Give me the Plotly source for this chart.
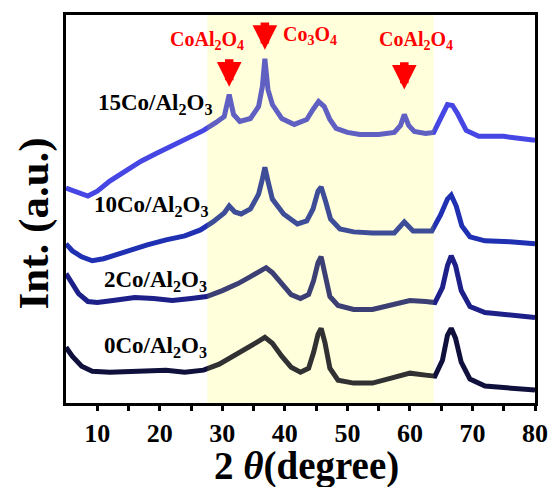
import plotly.graph_objects as go

# 2-theta positions (degree) and relative intensities (a.u., stacked with offsets)
theta_15 = [5.0, 6.5, 8.5, 10.0, 12.0, 14.5, 17.0, 19.5, 22.0, 24.5, 27.0, 29.0, 30.3, 31.1, 31.8,
            32.8, 34.5, 35.8, 36.4, 36.8, 37.3, 38.0, 39.5, 41.5, 43.5, 44.5, 45.4, 46.3, 47.2,
            48.2, 50.0, 52.0, 55.0, 57.5, 58.5, 59.1, 59.8, 60.7, 62.5, 63.8, 65.0, 66.0, 66.8,
            67.6, 69.0, 71.0, 75.0, 80.0]
int_15 = [216, 213, 208, 213, 223, 233, 243, 251, 259, 267, 274, 282, 288, 310, 290,
          283, 286, 298, 318, 346, 315, 300, 286, 280, 285, 295, 303, 298, 285,
          276, 272, 270, 270, 272, 279, 290, 279, 273, 271, 272, 287, 300, 299,
          291, 274, 268, 268, 264]

theta_10 = [5.0, 6.0, 7.5, 9.2, 11.0, 13.0, 15.0, 18.0, 21.0, 24.0, 26.5, 28.5, 30.3, 31.1, 32.0,
            33.0, 34.5, 35.8, 36.4, 36.8, 37.3, 38.0, 39.8, 42.0, 43.5, 44.5, 45.3, 45.8, 46.5,
            47.3, 48.8, 51.0, 54.0, 57.5, 59.1, 60.5, 63.5, 64.9, 66.0, 66.6, 67.4, 68.3, 69.6,
            72.0, 76.0, 80.0]
int_10 = [160, 153, 147, 143, 145, 149, 154, 159, 164, 168, 174, 182, 191, 198, 192,
          190, 195, 210, 225, 237, 223, 205, 190, 180, 183, 195, 213, 217, 203,
          185, 175, 172, 171, 171, 182, 173, 173, 189, 205, 209, 198, 178, 167,
          163, 162, 160]

theta_2 = [5.0, 6.0, 7.0, 8.5, 10.0, 12.5, 16.0, 19.0, 22.0, 25.0, 27.5, 30.0, 32.5, 34.5, 36.0,
           37.0, 38.0, 39.5, 41.0, 42.5, 43.8, 44.6, 45.3, 45.8, 46.4, 47.2, 48.5, 51.0, 54.0,
           57.0, 60.0, 62.5, 64.0, 65.2, 66.0, 66.6, 67.3, 68.2, 69.6, 72.0, 76.0, 80.0]
int_2 = [130, 120, 110, 102, 101, 103, 106, 105, 103, 105, 107, 113, 120, 127, 133,
         136, 131, 119, 109, 105, 109, 123, 141, 147, 131, 107, 98, 94, 94,
         98, 103, 102, 101, 116, 138, 148, 138, 113, 97, 91, 89, 86]

theta_0 = [5.0, 6.0, 7.5, 9.2, 12.0, 15.0, 18.0, 21.0, 24.0, 27.0, 29.5, 31.5, 33.5, 35.5, 36.8,
           38.0, 39.5, 41.0, 42.5, 43.8, 44.6, 45.3, 45.8, 46.4, 47.2, 48.5, 51.0, 54.0, 57.0,
           60.0, 62.5, 64.0, 65.2, 66.0, 66.6, 67.3, 68.2, 69.6, 72.0, 76.0, 80.0]
int_0 = [56, 47, 37, 32, 31, 32, 33, 33, 31, 33, 39, 46, 53, 61, 66,
         60, 47, 36, 31, 35, 51, 69, 75, 61, 35, 23, 20, 20, 25,
         30, 28, 27, 43, 68, 75, 65, 41, 24, 17, 15, 13]

sample_names = ["15Co/Al<sub>2</sub>O<sub>3</sub>", "10Co/Al<sub>2</sub>O<sub>3</sub>",
                "2Co/Al<sub>2</sub>O<sub>3</sub>", "0Co/Al<sub>2</sub>O<sub>3</sub>"]
sample_colors = ["#4646e4", "#1f30b2", "#1c2088", "#10103c"]
# label anchor (left edge, vertical centre) for each sample name
label_theta = [9.8, 9.2, 10.8, 10.8]
label_int = [301, 198, 123, 56]

# phase markers: peak position, arrow tip, arrow tail, label text and label position
phase_theta = [31.1, 36.8, 59.1]
phase_tip = [318, 355, 315]
phase_tail = [347, 384, 344]
phase_names = ["CoAl<sub>2</sub>O<sub>4</sub>", "Co<sub>3</sub>O<sub>4</sub>", "CoAl<sub>2</sub>O<sub>4</sub>"]
phase_label_theta = [27.5, 44.0, 61.0]
phase_label_int = [364, 369, 364]

x_ticks = [10, 20, 30, 40, 50, 60, 70, 80]
band = (27.6, 63.8)

serif = "Liberation Serif, Times New Roman, serif"

fig = go.Figure()
for xs, ys, c in zip([theta_15, theta_10, theta_2, theta_0],
                     [int_15, int_10, int_2, int_0], sample_colors):
    fig.add_trace(go.Scatter(x=xs, y=ys, mode="lines",
                             line=dict(color=c, width=5), showlegend=False))

# translucent highlight over the 2-theta window of interest
fig.add_shape(type="rect", xref="x", yref="paper", x0=band[0], x1=band[1], y0=0, y1=1,
              fillcolor="rgba(255,255,0,0.14)", line=dict(width=0), layer="above")

annotations = []
for name, lx, ly in zip(sample_names, label_theta, label_int):
    annotations.append(dict(x=lx, y=ly, xref="x", yref="y", text=name, showarrow=False,
                            xanchor="left", yanchor="middle",
                            font=dict(family=serif, size=23, color="black", weight="bold")))
for px, tip, tail in zip(phase_theta, phase_tip, phase_tail):
    annotations.append(dict(x=px, y=tip, ax=px, ay=tail, xref="x", yref="y",
                            axref="x", ayref="y", text="", showarrow=True,
                            arrowhead=2, arrowsize=0.58, arrowwidth=8.5, arrowcolor="#ff0000"))
for name, lx, ly in zip(phase_names, phase_label_theta, phase_label_int):
    annotations.append(dict(x=lx, y=ly, xref="x", yref="y", text=name, showarrow=False,
                            xanchor="center", yanchor="middle",
                            font=dict(family=serif, size=20, color="#ff0000", weight="bold")))

# axis titles
annotations.append(dict(x=0.513, y=-0.162, xref="paper", yref="paper",
                        text="2 <i>θ</i>(degree)", showarrow=False,
                        xanchor="center", yanchor="middle",
                        font=dict(family=serif, size=39, color="black", weight="bold")))
annotations.append(dict(x=-0.069, y=0.462, xref="paper", yref="paper",
                        text="Int. (a.u.)", showarrow=False, textangle=-90,
                        xanchor="center", yanchor="middle",
                        font=dict(family=serif, size=43, color="black", weight="bold")))

fig.update_layout(
    width=560, height=487,
    margin=dict(l=66, r=13, t=13, b=84),
    paper_bgcolor="white", plot_bgcolor="white",
    font=dict(family=serif, color="black"),
    annotations=annotations,
    xaxis=dict(range=[5, 80], tickvals=x_ticks, ticks="outside", ticklen=5, tickwidth=2.5,
               tickcolor="black", showline=True, linewidth=3, linecolor="black", mirror=True,
               showgrid=False, zeroline=False,
               tickfont=dict(family=serif, size=26, color="black", weight="bold"),
               minor=dict(tickvals=[15, 25, 35, 45, 55, 65, 75], ticks="outside",
                          ticklen=5, tickwidth=2.5, tickcolor="black")),
    yaxis=dict(range=[0, 390], showticklabels=False, ticks="", showline=True, linewidth=3,
               linecolor="black", mirror=True, showgrid=False, zeroline=False),
)

fig.write_html("out.html")
